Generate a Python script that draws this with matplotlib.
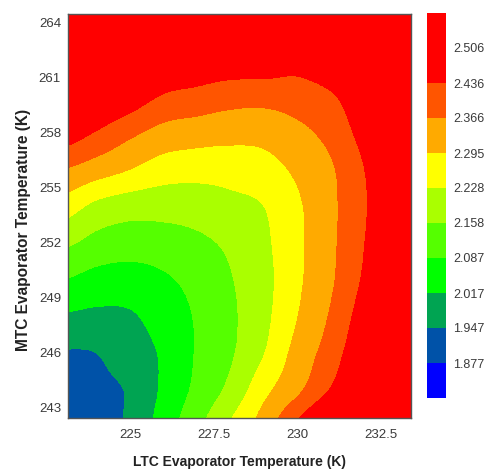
import numpy as np
import matplotlib
matplotlib.use("Agg")
import matplotlib.pyplot as plt
from matplotlib.colors import ListedColormap, BoundaryNorm

# LTC evaporator temperature grid (K), columns
ltc_temp = [223, 224, 225, 226, 227, 228, 229, 230, 231, 232, 233, 234]
# MTC evaporator temperature grid (K), rows
mtc_temp = [242, 244, 246, 248, 250, 252, 254, 256, 258, 260, 262, 264]

# system COP at each (MTC, LTC) grid point
cop = [
    [1.880, 1.910, 1.962, 2.049, 2.139, 2.235, 2.328, 2.447, 2.55, 2.62, 2.66, 2.70],
    [1.907, 1.932, 1.955, 2.030, 2.104, 2.177, 2.275, 2.352, 2.442, 2.54, 2.61, 2.66],
    [1.942, 1.948, 1.985, 2.027, 2.093, 2.149, 2.226, 2.320, 2.400, 2.50, 2.58, 2.64],
    [2.011, 2.003, 2.010, 2.048, 2.094, 2.145, 2.210, 2.294, 2.374, 2.473, 2.56, 2.62],
    [2.088, 2.064, 2.059, 2.078, 2.110, 2.154, 2.207, 2.282, 2.356, 2.447, 2.54, 2.60],
    [2.174, 2.136, 2.121, 2.126, 2.144, 2.172, 2.215, 2.280, 2.352, 2.435, 2.54, 2.60],
    [2.266, 2.214, 2.191, 2.188, 2.193, 2.210, 2.229, 2.285, 2.351, 2.428, 2.53, 2.59],
    [2.368, 2.333, 2.298, 2.263, 2.254, 2.256, 2.270, 2.309, 2.358, 2.436, 2.52, 2.58],
    [2.481, 2.434, 2.385, 2.345, 2.331, 2.321, 2.321, 2.349, 2.390, 2.462, 2.52, 2.57],
    [2.56, 2.53, 2.486, 2.434, 2.417, 2.399, 2.395, 2.405, 2.43, 2.49, 2.54, 2.58],
    [2.62, 2.60, 2.56, 2.52, 2.50, 2.49, 2.49, 2.47, 2.50, 2.53, 2.56, 2.59],
    [2.69, 2.67, 2.63, 2.59, 2.57, 2.56, 2.55, 2.55, 2.56, 2.58, 2.61, 2.63],
]

# contour levels, outer two only close the range
levels = [1.80, 1.877, 1.947, 2.017, 2.087, 2.158, 2.228, 2.295, 2.366,
          2.436, 2.506, 2.80]
level_labels = ['1.877', '1.947', '2.017', '2.087', '2.158', '2.228',
                '2.295', '2.366', '2.436', '2.506']
band_colors = ['#0000ff', '#0052a8', '#00a452', '#00ff00', '#55ff00',
               '#aaff00', '#ffff00', '#ffaa00', '#ff5500', '#ff0000',
               '#ff0000']

x_ticks = [225, 227.5, 230, 232.5]
x_tick_labels = ['225', '227.5', '230', '232.5']
y_ticks = [243, 246, 249, 252, 255, 258, 261, 264]

plt.rcParams['font.family'] = ['Liberation Sans', 'DejaVu Sans']

fig = plt.figure(figsize=(4.88, 4.70), dpi=100)
ax = fig.add_axes([68 / 488, 1 - 418 / 470, 343 / 488, 404 / 470])

cmap = ListedColormap(band_colors)
norm = BoundaryNorm(levels, cmap.N)
dx = (ltc_temp[1] - ltc_temp[0]) / 2
dy = (mtc_temp[1] - mtc_temp[0]) / 2
extent = [ltc_temp[0] - dx, ltc_temp[-1] + dx,
          mtc_temp[0] - dy, mtc_temp[-1] + dy]
# banded colour field, smoothed between grid points (catmull-rom keeps
# the grid values exact)
im = ax.imshow(np.array(cop), origin='lower', extent=extent, aspect='auto',
               cmap=cmap, norm=norm, interpolation='catrom',
               interpolation_stage='data')

ax.set_xlim(223.15, 233.4)
ax.set_ylim(242.45, 264.45)
ax.set_xticks(x_ticks)
ax.set_xticklabels(x_tick_labels)
ax.set_yticks(y_ticks)
ax.tick_params(length=0, labelsize=9.5, labelcolor='#3a3a3a')
ax.tick_params(axis='x', pad=8)
ax.tick_params(axis='y', pad=5)
for sp in ax.spines.values():
    sp.set_color('#555555')
    sp.set_linewidth(1.0)

ax.set_xlabel('LTC Evaporator Temperature (K)', fontsize=10,
              fontweight='bold', color='#222222', labelpad=10)
ax.set_ylabel('MTC Evaporator Temperature (K)', fontsize=11.2,
              fontweight='bold', color='#222222')
ax.yaxis.set_label_coords(-0.107, 0.465)

# colour bar on the right
cax = fig.add_axes([427 / 488, 1 - 398 / 470, 19 / 488, 385 / 470])
cb = fig.colorbar(im, cax=cax, ticks=levels[1:-1])
cb.ax.set_yticklabels(level_labels)
cb.ax.minorticks_off()
cb.outline.set_visible(False)
cb.ax.tick_params(which='both', length=0, pad=5, labelsize=9,
                  labelcolor='#3a3a3a')

fig.savefig('out.png', dpi=100)
